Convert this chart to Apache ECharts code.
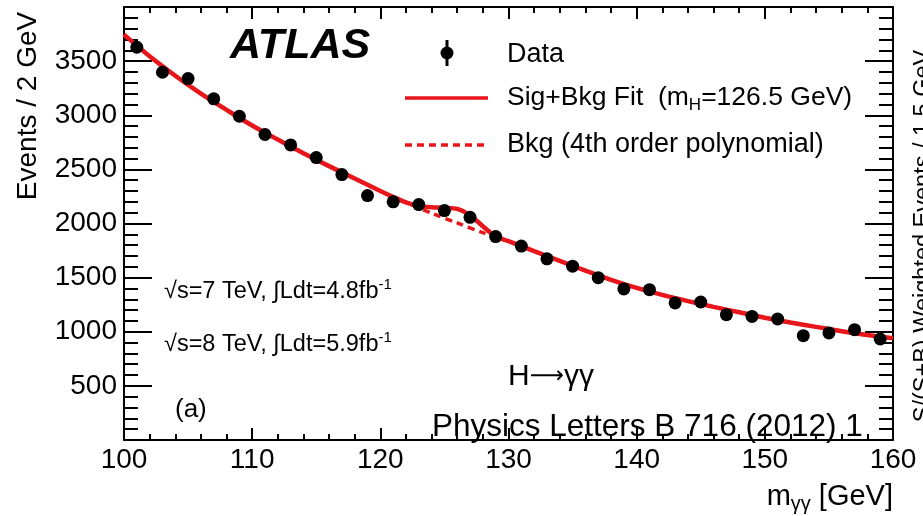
<!DOCTYPE html>
<html>
<head>
<meta charset="utf-8">
<script src="https://cdn.jsdelivr.net/npm/echarts@6/dist/echarts.min.js"></script>
<style>
  html, body { margin: 0; padding: 0; background: #fff; }
  #main { width: 923px; height: 516px; }
</style>
</head>
<body>
<div id="main"></div>
<script>
// H -> gamma gamma, diphoton invariant mass spectrum (ATLAS, PLB 716 (2012) 1)

// data points, one per 2 GeV bin
const massBins = [101, 103, 105, 107, 109, 111, 113, 115, 117, 119, 121, 123, 125, 127, 129,
                  131, 133, 135, 137, 139, 141, 143, 145, 147, 149, 151, 153, 155, 157, 159];
const events = [3628, 3397, 3339, 3152, 2991, 2822, 2726, 2609, 2452, 2258, 2200, 2175, 2119, 2057, 1879,
                1791, 1674, 1606, 1500, 1396, 1389, 1266, 1275, 1158, 1142, 1118, 964, 989, 1019, 933];

// background only fit (4th order polynomial)
const bkgMass = [100, 102, 104, 106, 108, 110, 112, 114, 116, 118, 120, 122, 124, 126, 128, 130,
                 132, 134, 136, 138, 140, 142, 144, 146, 148, 150, 152, 154, 156, 158, 160];
const bkgFit = [3745, 3545, 3365, 3200, 3050, 2905, 2775, 2650, 2530, 2415, 2300, 2195, 2095, 2005, 1915, 1835,
                1745, 1655, 1565, 1480, 1405, 1340, 1283, 1230, 1180, 1130, 1085, 1045, 1005, 970, 940];

// signal + background fit
const sigMass = [100, 102, 104, 106, 108, 110, 112, 114, 116, 118, 120, 121, 122, 123, 124, 125, 126, 127, 128, 129, 130,
                 132, 134, 136, 138, 140, 142, 144, 146, 148, 150, 152, 154, 156, 158, 160];
const sigBkgFit = [3745, 3545, 3365, 3200, 3050, 2905, 2775, 2650, 2530, 2415, 2300, 2245, 2195, 2160, 2150, 2145, 2135, 2075, 1975, 1880, 1838,
                   1745, 1655, 1565, 1480, 1405, 1340, 1283, 1230, 1180, 1130, 1085, 1045, 1005, 970, 940];

const xTickLabels = [100, 110, 120, 130, 140, 150, 160];
const yTickLabels = [500, 1000, 1500, 2000, 2500, 3000, 3500];

const FONT = 'Liberation Sans, Arial, sans-serif';
const RED = '#e8161b';

const chart = echarts.init(document.getElementById('main'), null, { renderer: 'canvas' });

function pairs(xs, ys) {
  return xs.map((x, i) => [x, ys[i]]);
}

// x axes (bottom with labels, top mirrored ticks only)
function makeX(pos, labels) {
  return {
    type: 'value',
    position: pos,
    min: 100,
    max: 160,
    interval: 10,
    axisLine: { show: true, onZero: false, lineStyle: { color: '#000', width: 2 } },
    axisTick: { show: true, inside: true, length: 12, lineStyle: { color: '#000', width: 2 } },
    minorTick: { show: true, splitNumber: 5, length: 6, lineStyle: { color: '#000', width: 2 } },
    splitLine: { show: false },
    axisLabel: {
      show: labels,
      color: '#000',
      fontFamily: FONT,
      fontSize: 28,
      margin: 6,
      showMinLabel: true,
      showMaxLabel: true,
      formatter: v => xTickLabels.indexOf(v) >= 0 ? String(v) : ''
    }
  };
}

// y axes (left with labels, right mirrored)
function makeY(pos, labels) {
  return {
    type: 'value',
    position: pos,
    min: 0,
    max: 4000,
    interval: 500,
    axisLine: { show: true, onZero: false, lineStyle: { color: '#000', width: 2 } },
    axisTick: { show: true, inside: true, length: 28, lineStyle: { color: '#000', width: 2 } },
    minorTick: { show: true, splitNumber: 5, length: 14, lineStyle: { color: '#000', width: 2 } },
    splitLine: { show: false },
    axisLabel: {
      show: labels,
      color: '#000',
      fontFamily: FONT,
      fontSize: 28,
      margin: 7,
      formatter: v => yTickLabels.indexOf(v) >= 0 ? String(v) : ''
    }
  };
}

const option = {
  animation: false,
  backgroundColor: '#fff',
  grid: { left: 124, right: 30, top: 7, bottom: 76, containLabel: false },
  xAxis: [makeX('bottom', true), makeX('top', false)],
  yAxis: [makeY('left', true), makeY('right', false)],
  series: [
    {
      name: 'Bkg (4th order polynomial)',
      type: 'line',
      xAxisIndex: 0,
      yAxisIndex: 0,
      data: pairs(bkgMass, bkgFit),
      smooth: 0.3,
      symbol: 'none',
      z: 2,
      lineStyle: { color: RED, width: 3.5, type: [7, 5] }
    },
    {
      name: 'Sig+Bkg Fit',
      type: 'line',
      xAxisIndex: 0,
      yAxisIndex: 0,
      data: pairs(sigMass, sigBkgFit),
      smooth: 0.3,
      symbol: 'none',
      z: 3,
      lineStyle: { color: RED, width: 4.5 }
    },
    {
      name: 'Data',
      type: 'scatter',
      xAxisIndex: 0,
      yAxisIndex: 0,
      data: pairs(massBins, events),
      symbol: 'circle',
      symbolSize: 13,
      z: 5,
      itemStyle: { color: '#000', opacity: 1 }
    }
  ],
  graphic: [
    // axis titles
    {
      type: 'text', x: 28, y: 106, rotation: Math.PI / 2, z: 10,
      style: { text: 'Events / 2 GeV', fill: '#000', font: '28px ' + FONT, align: 'center', verticalAlign: 'middle' }
    },
    {
      type: 'text', x: 893, y: 497, z: 10,
      style: {
        text: '{n|m}{s|γγ}{n| [GeV]}',
        align: 'right', verticalAlign: 'middle',
        rich: {
          n: { fontFamily: FONT, fontSize: 29, fill: '#000', lineHeight: 34 },
          s: { fontFamily: FONT, fontSize: 20, fill: '#000', lineHeight: 34, verticalAlign: 'bottom', padding: [12, 0, 0, 0] }
        }
      }
    },
    // cut-off title of the lower panel axis at the right edge
    {
      type: 'text', x: 924, y: 236, rotation: Math.PI / 2, z: 10,
      style: { text: 'S/(S+B) Weighted Events / 1.5 GeV', fill: '#000', font: '23.5px ' + FONT, align: 'center', verticalAlign: 'middle' }
    },
    // ATLAS label
    {
      type: 'text', x: 230, y: 46, z: 10,
      style: { text: 'ATLAS', fill: '#000', font: 'italic bold 43px ' + FONT, verticalAlign: 'middle' }
    },
    // legend
    {
      type: 'line', z: 10,
      shape: { x1: 447, y1: 40, x2: 447, y2: 66 },
      style: { stroke: '#000', lineWidth: 3 }
    },
    {
      type: 'circle', z: 10,
      shape: { cx: 447, cy: 53, r: 6.5 },
      style: { fill: '#000' }
    },
    {
      type: 'text', x: 507, y: 55, z: 10,
      style: { text: 'Data', fill: '#000', font: '27px ' + FONT, verticalAlign: 'middle' }
    },
    {
      type: 'line', z: 10,
      shape: { x1: 405, y1: 98, x2: 488, y2: 98 },
      style: { stroke: RED, lineWidth: 3.5 }
    },
    {
      type: 'text', x: 507, y: 98, z: 10,
      style: {
        text: '{n|Sig+Bkg Fit  (m}{s|H}{n|=126.5 GeV)}',
        verticalAlign: 'middle',
        rich: {
          n: { fontFamily: FONT, fontSize: 26.5, fill: '#000', lineHeight: 32 },
          s: { fontFamily: FONT, fontSize: 17, fill: '#000', lineHeight: 32, verticalAlign: 'bottom', padding: [14, 0, 0, 0] }
        }
      }
    },
    {
      type: 'line', z: 10,
      shape: { x1: 405, y1: 145, x2: 488, y2: 145 },
      style: { stroke: RED, lineWidth: 3.5, lineDash: [7, 5] }
    },
    {
      type: 'text', x: 507, y: 145, z: 10,
      style: { text: 'Bkg (4th order polynomial)', fill: '#000', font: '27px ' + FONT, verticalAlign: 'middle' }
    },
    // energy / luminosity
    {
      type: 'text', x: 164, y: 292, z: 10,
      style: {
        text: '{n|√s=7 TeV, ∫Ldt=4.8fb}{p|-1}',
        verticalAlign: 'middle',
        rich: {
          n: { fontFamily: FONT, fontSize: 23.5, fill: '#000', lineHeight: 30 },
          p: { fontFamily: FONT, fontSize: 15, fill: '#000', lineHeight: 30, verticalAlign: 'top', padding: [0, 0, 12, 0] }
        }
      }
    },
    {
      type: 'text', x: 164, y: 345, z: 10,
      style: {
        text: '{n|√s=8 TeV, ∫Ldt=5.9fb}{p|-1}',
        verticalAlign: 'middle',
        rich: {
          n: { fontFamily: FONT, fontSize: 23.5, fill: '#000', lineHeight: 30 },
          p: { fontFamily: FONT, fontSize: 15, fill: '#000', lineHeight: 30, verticalAlign: 'top', padding: [0, 0, 12, 0] }
        }
      }
    },
    {
      type: 'text', x: 175, y: 410, z: 10,
      style: { text: '(a)', fill: '#000', font: '26px ' + FONT, verticalAlign: 'middle' }
    },
    {
      type: 'text', x: 508, y: 377, z: 10,
      style: {
        text: '{n|H}{a|⟶}{n|γγ}',
        verticalAlign: 'middle',
        rich: {
          n: { fontFamily: FONT, fontSize: 30, fill: '#000', lineHeight: 34 },
          a: { fontFamily: 'DejaVu Sans', fontSize: 24, fill: '#000', lineHeight: 34 }
        }
      }
    },
    {
      type: 'text', x: 432, y: 427, z: 20,
      style: { text: 'Physics Letters B 716 (2012) 1', fill: '#000', font: '31.5px ' + FONT, verticalAlign: 'middle' }
    }
  ]
};

chart.setOption(option);
</script>
</body>
</html>
